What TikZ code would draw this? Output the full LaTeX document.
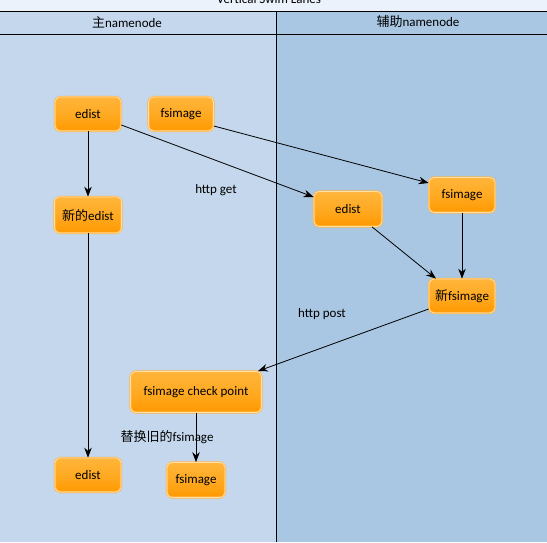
\documentclass[tikz,border=0pt]{standalone}
\usepackage{fontspec}
\setmainfont{Carlito}
\newfontfamily\cjk{Noto Sans CJK SC}
\usetikzlibrary{arrows.meta,calc}
\definecolor{topband}{HTML}{EBF2FC}
\definecolor{laneA}{HTML}{C4D7EC}
\definecolor{laneB}{HTML}{A9C7E2}
\definecolor{boxtop}{HTML}{FFB53A}
\definecolor{boxbot}{HTML}{FF9900}
\definecolor{boxedge}{HTML}{FFB547}
\definecolor{boxinner}{HTML}{FFE1A6}
\tikzset{
  proc/.style={rounded corners=5pt, draw=boxedge, double=boxinner,
    double distance=0.7pt, line width=0.7pt,
    top color=boxtop, bottom color=boxbot, middle color=boxtop!60!boxbot,
    font=\fontsize{13}{15}\selectfont, inner sep=0pt, text=black},
  flow/.style={-{Stealth[length=10pt,width=7.5pt]}, line width=0.8pt, black},
  note/.style={font=\fontsize{13}{15}\selectfont, inner sep=0pt},
  lanehead/.style={font=\fontsize{13}{15}\selectfont, inner sep=0pt},
}
\begin{document}
\begin{tikzpicture}[x=1pt,y=-1pt]
\useasboundingbox (0,0) rectangle (547,542);
% background and lanes
\fill[topband] (0,0) rectangle (547,11);
\fill[laneA] (0,11) rectangle (276,542);
\fill[laneB] (276,11) rectangle (547,542);
\begin{scope}
\clip (0,0) rectangle (547,11);
\node[lanehead, anchor=base] (title) at (269,3) {Vertical Swim Lanes};
\end{scope}
\draw[line width=0.9pt] (0,11) -- (547,11);
\draw[line width=0.9pt] (0,34) -- (547,34);
\draw[line width=0.9pt] (276,11) -- (276,542);
\node[lanehead] (headA) at (127,22) {{\cjk 主}namenode};
\node[lanehead] (headB) at (418,22) {{\cjk 辅助}namenode};

% process boxes
\node[proc, minimum width=66pt, minimum height=34pt] (e1) at (88,114) {edist};
\node[proc, minimum width=65pt, minimum height=34pt] (f1) at (181,114) {fsimage};
\node[proc, minimum width=67pt, minimum height=36pt] (ne) at (88,215) {{\cjk 新的}edist};
\node[proc, minimum width=68pt, minimum height=35pt] (e2) at (348,209) {edist};
\node[proc, minimum width=66pt, minimum height=35pt] (f2) at (462,195) {fsimage};
\node[proc, minimum width=66pt, minimum height=34pt] (nf) at (462,296) {{\cjk 新}fsimage};
\node[proc, minimum width=131pt, minimum height=41pt] (cp) at (196,392) {fsimage check point};
\node[proc, minimum width=66pt, minimum height=34pt] (e3) at (88,475) {edist};
\node[proc, minimum width=58pt, minimum height=35pt] (f3) at (196,480) {fsimage};

% labels
\node[note] (lget) at (216,190) {http get};
\node[note] (lpost) at (322,314) {http post};
\node[note] (lrep) at (167,437) {{\cjk 替换旧的}fsimage};

% connectors
\draw[flow] (e1.south) -- (ne.north);
\draw[flow] ([yshift=-11pt]e1.east) -- ([yshift=12pt]e2.west);
\draw[flow] ([yshift=-12pt]f1.east) -- ([yshift=12pt]f2.west);
\draw[flow] (ne.south) -- (e3.north);
\draw[flow] ([xshift=24pt]e2.south) -- ([xshift=-26pt]nf.north);
\draw[flow] (f2.south) -- (nf.north);
\draw[flow] ([yshift=-13pt]nf.west) -- ([xshift=-4pt]cp.north east);
\draw[flow] (cp.south) -- (f3.north);
\end{tikzpicture}
\end{document}
